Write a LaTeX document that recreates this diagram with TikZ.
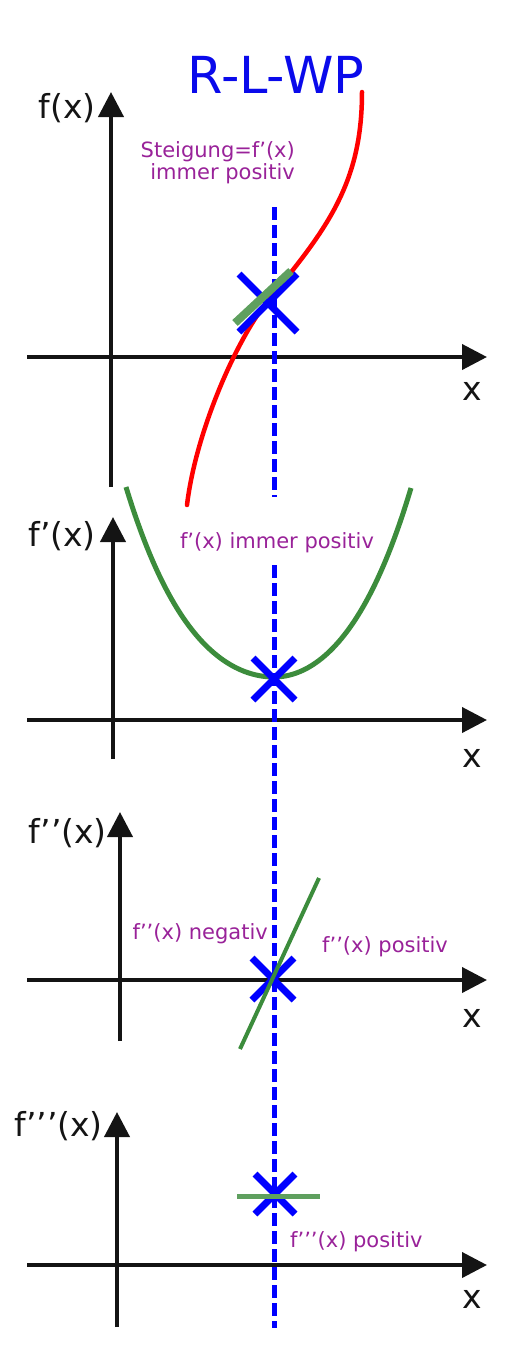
\documentclass[tikz,border=0pt]{standalone}
\usepackage{fontspec}
\setmainfont{DejaVu Sans}
\usetikzlibrary{arrows.meta}
\definecolor{lila}{RGB}{153,34,153}
\definecolor{dgreen}{RGB}{60,140,60}
\definecolor{lgreen}{RGB}{95,160,95}
\definecolor{wpblue}{RGB}{0,0,255}
\definecolor{titleblue}{RGB}{10,10,235}
\definecolor{axisblack}{RGB}{20,20,20}
\tikzset{
  axisline/.style={line width=4pt,draw=axisblack,-{Triangle[length=25pt,width=25pt]}},
  axlabel/.style={font=\fontsize{33}{36}\selectfont,text=axisblack,inner sep=0pt},
  note/.style={font=\fontsize{21}{23}\selectfont,text=lila,inner sep=0pt},
  wpline/.style={line width=5pt,draw=wpblue,dash pattern=on 13pt off 5pt},
  crossarm/.style={line width=7pt,draw=wpblue},
  wpx/.pic={\draw[crossarm] (-#1,-#1) -- (#1,#1); \draw[crossarm] (-#1,#1) -- (#1,-#1);}
}
\begin{document}
\begin{tikzpicture}[x=1pt,y=-1pt]
\useasboundingbox (0,0) rectangle (514,1350);
% title
\node[font=\fontsize{51}{54}\selectfont,text=titleblue,inner sep=0pt,anchor=base] (title) at (276,93) {R-L-WP};

% ---------- panel 1 ----------
\draw[axisline] (27,357) -- (487,357);
\draw[axisline] (111,487) -- (111,92);
\node[axlabel,anchor=base east] (fx) at (96,118) {f(x)};
\node[axlabel,anchor=base] (x1) at (472,400) {x};
\node[note,anchor=base east] (st1) at (295,157) {Steigung=f’(x)};
\node[note,anchor=base east] (st2) at (295,179) {immer positiv};
\draw[red,line width=4.5pt,line cap=round]
  (362,92) .. controls (362,180) and (330,226) .. (270,298)
           .. controls (238,336) and (196,430) .. (187,505);

% ---------- panel 2 ----------
\draw[axisline] (27,720) -- (487,720);
\draw[axisline] (113,759) -- (113,517);
\node[axlabel,anchor=base east] (f1x) at (96,546) {f’(x)};
\node[axlabel,anchor=base] (x2) at (472,767) {x};
\node[note,anchor=base] (imm) at (277,548) {f’(x) immer positiv};
\draw[dgreen,line width=5pt,line join=round]
  plot[domain=-148:0,samples=50] ({274+\x},{677-62.75*(\x/100)^2-10.95*(\x/100)^4})
  -- plot[domain=0:137,samples=50] ({274+\x},{677-79.45*(\x/100)^2-11.32*(\x/100)^4});

% ---------- panel 3 ----------
\draw[axisline] (27,980) -- (487,980);
\draw[axisline] (120,1041) -- (120,812);
\node[axlabel,anchor=base east] (f2x) at (107,843) {f’’(x)};
\node[axlabel,anchor=base] (x3) at (472,1027) {x};
\node[note,anchor=base east] (neg) at (268,939) {f’’(x) negativ};
\node[note,anchor=base west] (pos) at (322,952) {f’’(x) positiv};

% ---------- panel 4 ----------
\draw[axisline] (27,1265) -- (487,1265);
\draw[axisline] (117,1327) -- (117,1112);
\node[axlabel,anchor=base east] (f3x) at (103,1136) {f’’’(x)};
\node[axlabel,anchor=base] (x4) at (472,1308) {x};
\node[note,anchor=base west] (pos3) at (290,1247) {f’’’(x) positiv};

% ---------- vertical WP line ----------
\coordinate (wA) at (274,207);
\coordinate (wB) at (274,497);
\coordinate (wC) at (274,565);
\coordinate (wD) at (274,1328);
\draw[wpline] (wA) -- (wB);
\draw[wpline] (wC) -- (wD);

% ---------- crosses ----------
\pic at (268,303) {wpx=29};
\pic at (274,679) {wpx=21};
\pic at (273,979) {wpx=21};
\pic at (275,1194) {wpx=20};

% ---------- tangents / derivative lines ----------
\draw[lgreen,line width=8pt] (235,323) -- (291,271);
\draw[dgreen,line width=4pt] (240,1049) -- (319,878);
\draw[lgreen,line width=5pt] (237,1196) -- (320,1196);
\end{tikzpicture}
\end{document}
